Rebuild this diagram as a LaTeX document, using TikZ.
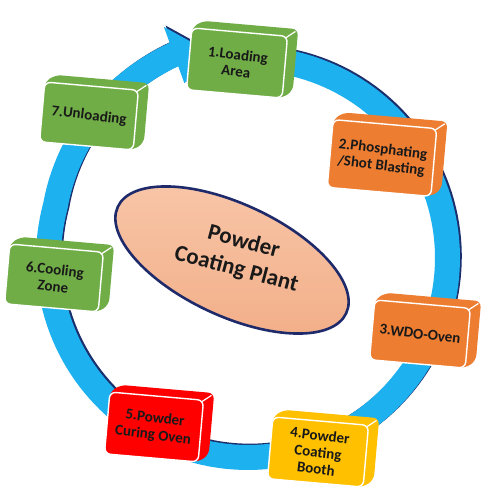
\documentclass[tikz,border=0pt]{standalone}
\usepackage{fontspec}
\setmainfont{Carlito}
\usetikzlibrary{shapes.geometric}
\definecolor{ringblue}{HTML}{1EB1EF}
\definecolor{ringdark}{HTML}{1B2F6E}
\definecolor{bgreen}{HTML}{70AD47}
\definecolor{borange}{HTML}{ED7D31}
\definecolor{byellow}{HTML}{FFC000}
\definecolor{bred}{HTML}{FF0000}
\definecolor{salmonA}{HTML}{F8C6A8}
\definecolor{salmonB}{HTML}{F2AE88}
\definecolor{navy}{HTML}{1F2A6B}
\tikzset{
  boxface/.style={draw=white, line width=1.4pt, rounded corners=6pt, inner sep=0pt, transform shape},
  boxtext/.style={font=\bfseries\fontsize{15}{17}\selectfont, align=center, text=black!90, inner sep=0pt},
  extrude/.style={rounded corners=6pt},
  ringfill/.style={fill=ringblue, preaction={fill=ringdark, transform canvas={shift={(1.8pt,1.3pt)}}}},
  coretext/.style={font=\bfseries\fontsize{23}{28}\selectfont, align=center, text=black!90, inner sep=0pt},
}
\newcommand\plantbox[7]{%
  \begin{scope}[shift={(#2,#3)}, rotate=-5]
    \fill[#6, extrude] (-#4/2,-#5/2) -- (#4/2,-#5/2) -- (#4/2+10,-#5/2+8) -- (#4/2+10,#5/2+8) -- (-#4/2+10,#5/2+8) -- (-#4/2,#5/2) -- cycle;
    \node[boxface, fill=#6, minimum width=#4pt, minimum height=#5pt] (#1) at (0,0) {};
    \draw[white, line width=1.2pt] (#4/2-1.8,#5/2-1.8) -- (#4/2+7.5,#5/2+5.5);
  \end{scope}
  \node[boxtext, rotate=-7] (#1t) at (#1) {#7};
}
\begin{document}
\begin{tikzpicture}[x=1pt, y=1pt, declare function={bump(\t)=17*max(0,(-195-(\t))/55);}]
\fill[white] (0,0) rectangle (500,500);
\useasboundingbox (0,0) rectangle (500,500);
% ring arrow
\fill[ringfill] plot[domain=85:-250, samples=160] ({248+(212+bump(\x))*cos(\x)},{242+(212+bump(\x))*sin(\x)})
  -- ({248+246*cos(110)},{242+246*sin(110)})
  -- ({248+205*cos(99)},{242+205*sin(99)})
  -- ({248+186*cos(110)},{242+186*sin(110)})
  -- plot[domain=-250:85, samples=160] ({248+(187+bump(\x))*cos(\x)},{242+(187+bump(\x))*sin(\x)}) -- cycle;
% centre
\node[ellipse, draw=navy, line width=2.6pt, top color=salmonA, bottom color=salmonB, minimum width=252pt, minimum height=112pt, rotate=-25] (core) at (232,240) {};
\node[coretext, rotate=-15] (coretxt) at (240,244) {Powder\\Coating Plant};
% boxes
\plantbox{b1}{237}{437}{96}{62}{bgreen}{1.Loading\\Area}
\plantbox{b2}{382}{342}{104}{68}{borange}{2.Phosphating\\/Shot Blasting}
\plantbox{b3}{420}{166}{96}{60}{borange}{3.WDO-Oven}
\plantbox{b4}{318}{48}{96}{62}{byellow}{4.Powder\\Coating\\Booth}
\plantbox{b5}{154}{73}{94}{62}{bred}{5.Powder\\Curing Oven}
\plantbox{b6}{54}{222}{94}{60}{bgreen}{6.Cooling\\Zone}
\plantbox{b7}{89}{384}{94}{60}{bgreen}{7.Unloading}
\end{tikzpicture}
\end{document}
